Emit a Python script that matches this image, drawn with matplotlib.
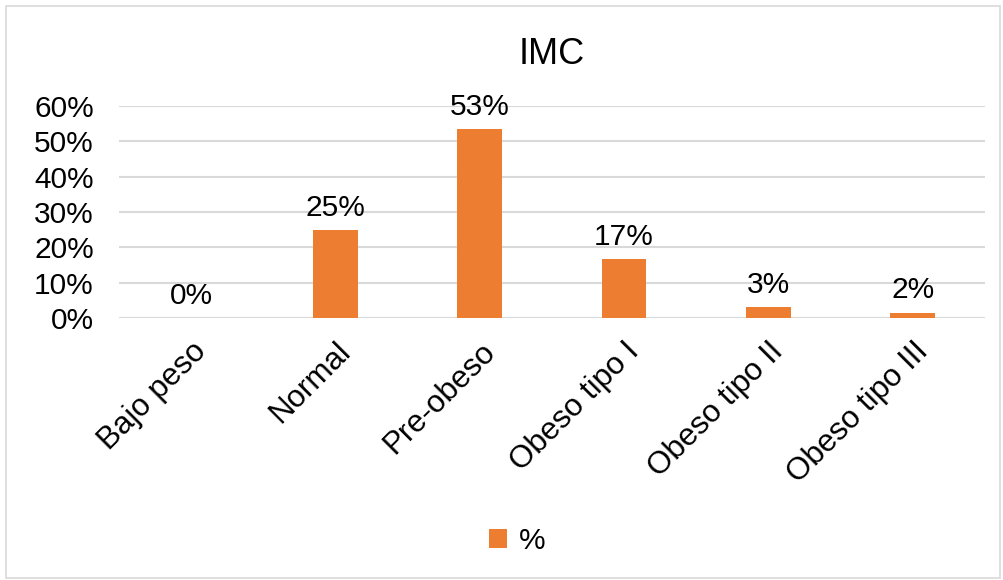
import numpy as np
import matplotlib.pyplot as plt
from matplotlib.patches import Rectangle

categorias = ["Bajo peso", "Normal", "Pre-obeso", "Obeso tipo I", "Obeso tipo II", "Obeso tipo III"]
valores = [0.0, 0.249, 0.533, 0.166, 0.032, 0.016]
etiquetas = ["0%", "25%", "53%", "17%", "3%", "2%"]
ticks_y = [0, 0.1, 0.2, 0.3, 0.4, 0.5, 0.6]

plt.rcParams['font.family'] = ['Liberation Sans', 'DejaVu Sans']
naranja = '#ED7D31'
fs = 21.5

fig = plt.figure(figsize=(10.04, 5.80), dpi=100)
# marco del grafico
fig.patches.append(Rectangle((0.006, 0.004), 0.99, 0.985, transform=fig.transFigure,
                             fill=False, edgecolor='#D9D9D9', linewidth=1.2))
ax = fig.add_axes([0.1185, 0.4512, 0.8625, 0.3666])

x = np.arange(len(categorias))
barras = ax.bar(x, valores, width=0.31, color=naranja, zorder=3, label='%')
for xi, v, t in zip(x, valores, etiquetas):
    ax.annotate(t, (xi, v), xytext=(0, 6), textcoords='offset points',
                ha='center', va='bottom', fontsize=fs)

ax.set_xlim(-0.5, len(categorias) - 0.5)
ax.set_ylim(0, 0.6)
ax.set_yticks(ticks_y)
ax.set_yticklabels([f"{int(round(t*100))}%" for t in ticks_y], fontsize=fs)
ax.set_xticks(x)
ax.set_xticklabels(categorias, rotation=45, ha='right', rotation_mode='anchor', fontsize=22.5)
ax.tick_params(length=0)
ax.tick_params(axis='y', pad=18)
ax.tick_params(axis='x', pad=13)
ax.grid(axis='y', color='#D9D9D9', linewidth=1.5, zorder=0)
for s in ax.spines.values():
    s.set_visible(False)

ax.set_title("IMC", fontsize=26, pad=30)
fig.legend(handles=[barras], labels=['%'], loc='center', bbox_to_anchor=(0.515, 0.068),
           frameon=False, fontsize=fs, handlelength=0.6, handleheight=0.6, handletextpad=0.4)

fig.savefig('out.png', dpi=100)
